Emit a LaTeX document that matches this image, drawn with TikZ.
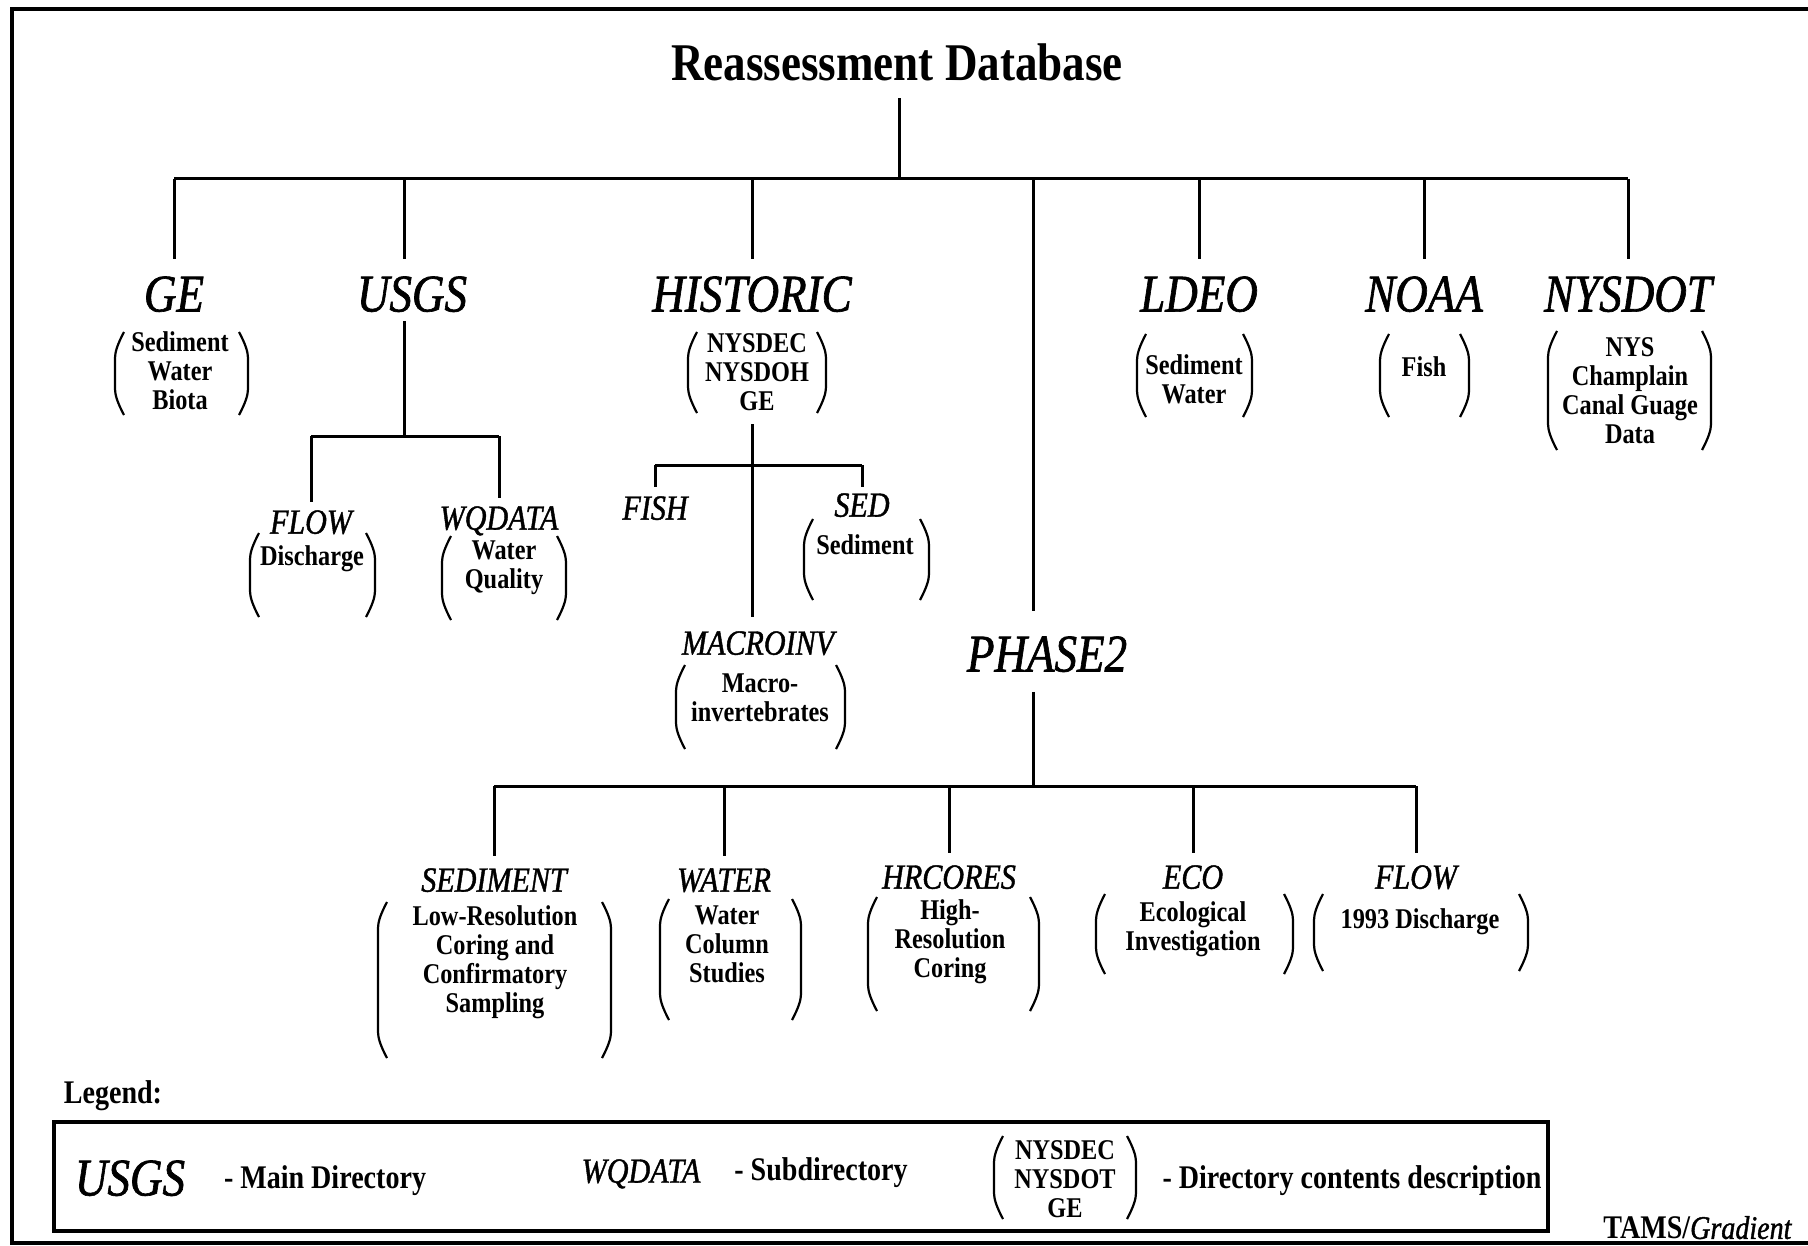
\documentclass[tikz,border=0pt]{standalone}
\usepackage{fontspec}
\setmainfont{Liberation Serif}[FakeStretch=0.85]
\newfontface\lblfont{Liberation Serif Italic}[FakeStretch=0.85,FakeBold=1.2]
\usetikzlibrary{fit,calc}
\tikzset{
 conn/.style={line width=1.5pt},
 frame/.style={line width=2.2pt},
 pline/.style={line width=1.1pt},
 legbox/.style={draw, line width=1.6pt, inner sep=0pt},
 ttl/.style={font=\fontsize{26.5}{30}\selectfont\bfseries, inner sep=0pt, text height=17.5pt, text depth=0pt},
 lbl/.style={font=\fontsize{26.5}{30}\lblfont, inner sep=0pt, text height=17.5pt, text depth=0pt},
 sub/.style={font=\fontsize{17.7}{20}\lblfont, inner sep=0pt, text height=11.7pt, text depth=0pt},
 desc/.style={font=\fontsize{14.3}{14.5}\selectfont\bfseries, align=center, inner sep=0pt},
 ltext/.style={font=\fontsize{16.5}{20}\selectfont\bfseries, inner sep=0pt, text height=10.9pt, text depth=0pt},
 pbox/.style={inner sep=0pt, outer sep=0pt},
}
\newcommand\drawparens[1]{%
 \draw[pline] let \p1=(#1.north west), \p2=(#1.south east) in
  (\x1+4.5pt,\y1) .. controls (\x1+1.3pt,\y1-6pt) and (\x1,\y1-10pt) .. (\x1,\y1-13pt) -- (\x1,\y2+13pt) .. controls (\x1,\y2+10pt) and (\x1+1.3pt,\y2+6pt) .. (\x1+4.5pt,\y2)
  (\x2-4.5pt,\y1) .. controls (\x2-1.3pt,\y1-6pt) and (\x2,\y1-10pt) .. (\x2,\y1-13pt) -- (\x2,\y2+13pt) .. controls (\x2,\y2+10pt) and (\x2-1.3pt,\y2+6pt) .. (\x2-4.5pt,\y2);}
\begin{document}
\begin{tikzpicture}[x=0.5pt,y=-0.5pt]
\useasboundingbox (0,0) rectangle (1808,1246);
\draw[frame] (1808,9) -- (12,9) -- (12,1243) -- (1808,1243);

% title and top level
\node[ttl] (title) at (897,63) {Reassessment Database};
\coordinate (bus) at (899,179);
\node[lbl] (ge) at (174,294) {GE};
\node[lbl] (usgs) at (412,294) {USGS};
\node[lbl] (hist) at (752,294) {HISTORIC};
\node[lbl] (ldeo) at (1199,294) {LDEO};
\node[lbl] (noaa) at (1424,294) {NOAA};
\node[lbl] (nysdot) at (1628,294) {NYSDOT};
\node[lbl] (phase2) at (1047,654) {PHASE2};

\draw[conn] ([yshift=-8.75pt]title.south -| bus) -- (bus);
\draw[conn] (ge.north |- bus) -- (nysdot.north |- bus);
\foreach \nm in {ge,hist,ldeo,noaa,nysdot}
  \draw[conn] (\nm.north |- bus) -- ([yshift=8.5pt]\nm.north);
\draw[conn] ([xshift=-4pt]usgs.north |- bus) -- ([xshift=-4pt,yshift=8.5pt]usgs.north);
\draw[conn] ([xshift=-7pt]phase2.north |- bus) -- ([xshift=-7pt,yshift=12.5pt]phase2.north);

% descriptions top level
\node[pbox, fit={(115,332) (248,415)}] (geB) {};
\node[desc] (geD) at (180,371) {Sediment\\Water\\Biota};
\node[pbox, fit={(688,332) (826,413)}] (histB) {};
\node[desc] (histD) at (757,372) {NYSDEC\\NYSDOH\\GE};
\node[pbox, fit={(1137,334) (1252,417)}] (ldeoB) {};
\node[desc] (ldeoD) at (1194,379) {Sediment\\Water};
\node[pbox, fit={(1380,334) (1469,417)}] (noaaB) {};
\node[desc] (noaaD) at (1424,367) {Fish};
\node[pbox, fit={(1548,331) (1711,450)}] (nysdotB) {};
\node[desc] (nysdotD) at (1630,391) {NYS\\Champlain\\Canal Guage\\Data};
\drawparens{geB}\drawparens{histB}\drawparens{ldeoB}\drawparens{noaaB}\drawparens{nysdotB}

% USGS subtree
\coordinate (ubus) at (404,436);
\node[sub] (flow1) at (311,522) {FLOW};
\node[sub] (wq) at (499,518) {WQDATA};
\draw[conn] ([xshift=-4pt,yshift=-4.75pt]usgs.south) -- (ubus);
\draw[conn] (flow1.north |- ubus) -- (wq.north |- ubus);
\draw[conn] (flow1.north |- ubus) -- ([yshift=4pt]flow1.north);
\draw[conn] (wq.north |- ubus) -- ([yshift=4pt]wq.north);
\node[pbox, fit={(250,533) (375,617)}] (flowB) {};
\node[desc] (flowD) at (312,559) {Discharge};
\node[pbox, fit={(442,536) (566,620)}] (wqB) {};
\node[desc] (wqD) at (504,568) {Water\\Quality};
\drawparens{flowB}\drawparens{wqB}

% HISTORIC subtree
\coordinate (hbus) at (752,465);
\node[sub] (fish) at (655,508) {FISH};
\node[sub] (sed) at (862,505) {SED};
\node[sub] (macro) at (758,643) {MACROINV};
\draw[conn] ([yshift=-5.5pt]histB.south -| hist.center) -- ([yshift=7pt]macro.north -| hist.center);
\draw[conn] (fish.north |- hbus) -- (sed.north |- hbus);
\draw[conn] (fish.north |- hbus) -- ([yshift=4.5pt]fish.north);
\draw[conn] (sed.north |- hbus) -- ([yshift=3pt]sed.north);
\node[pbox, fit={(804,519) (929,600)}] (sedB) {};
\node[desc] (sedD) at (865,545) {Sediment};
\node[pbox, fit={(676,665) (845,749)}] (macroB) {};
\node[desc] (macroD) at (760,698) {Macro-\\invertebrates};
\drawparens{sedB}\drawparens{macroB}

% PHASE2 subtree
\coordinate (pbus) at (1033,786);
\node[sub] (sedim) at (494,880) {SEDIMENT};
\node[sub] (water) at (724,880) {WATER};
\node[sub] (hrc) at (949,877) {HRCORES};
\node[sub] (eco) at (1193,877) {ECO};
\node[sub] (flow2) at (1416,877) {FLOW};
\draw[conn] ([xshift=-7pt,yshift=-10pt]phase2.south) -- (pbus);
\draw[conn] (sedim.north |- pbus) -- (flow2.north |- pbus);
\foreach \nm in {sedim,water,hrc,eco,flow2}
  \draw[conn] (\nm.north |- pbus) -- ([yshift=6pt]\nm.north);
\node[pbox, fit={(378,902) (611,1058)}] (sedimB) {};
\node[desc] (sedimD) at (495,962) {Low-Resolution\\Coring and\\Confirmatory\\Sampling};
\node[pbox, fit={(660,899) (801,1020)}] (waterB) {};
\node[desc] (waterD) at (727,944) {Water\\Column\\Studies};
\node[pbox, fit={(868,897) (1039,1011)}] (hrcB) {};
\node[desc] (hrcD) at (950,942) {High-\\Resolution\\Coring};
\node[pbox, fit={(1096,894) (1293,974)}] (ecoB) {};
\node[desc] (ecoD) at (1193,929) {Ecological\\Investigation};
\node[pbox, fit={(1314,894) (1528,971)}] (flow2B) {};
\node[desc] (flow2D) at (1420,922) {1993 Discharge};
\drawparens{sedimB}\drawparens{waterB}\drawparens{hrcB}\drawparens{ecoB}\drawparens{flow2B}

% legend
\node[ltext] (legtitle) at (113,1093) {Legend:};
\node[legbox, fit={(54,1122) (1548,1231)}] (legend) {};
\node[lbl] (lusgs) at (130,1178) {USGS};
\node[ltext] (lmain) at (325,1178) {- Main Directory};
\node[sub] (lwq) at (641,1171) {WQDATA};
\node[ltext] (lsubd) at (821,1170) {- Subdirectory};
\node[pbox, fit={(994,1136) (1136,1219)}] (legB) {};
\node[desc] (legD) at (1065,1179) {NYSDEC\\NYSDOT\\GE};
\drawparens{legB}
\node[ltext] (ldesc) at (1352,1178) {- Directory contents description};
\node[ltext, anchor=west] (tams) at (1603,1228) {TAMS/{\lblfont Gradient}};
\end{tikzpicture}
\end{document}
